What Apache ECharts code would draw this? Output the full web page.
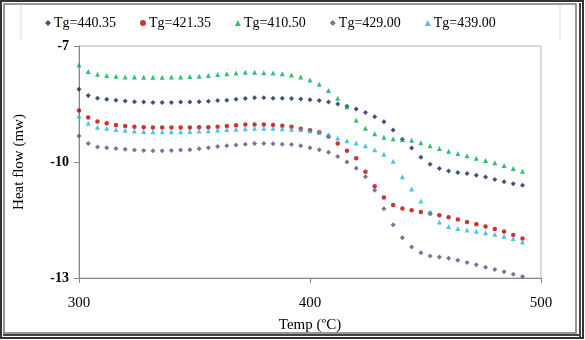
<!DOCTYPE html>
<html>
<head>
<meta charset="utf-8">
<script src="https://cdn.jsdelivr.net/npm/echarts@6/dist/echarts.min.js"></script>
<style>
  html, body { margin: 0; padding: 0; background: #fff; }
  #chart { width: 585px; height: 340px; }
</style>
</head>
<body>
<div id="chart"></div>
<script>
// temperatures (°C) shared by all runs
const temps = [300, 304, 308, 312, 316, 320, 324, 328, 332, 336, 340, 344, 348, 352, 356, 360, 364, 368, 372, 376,
  380, 384, 388, 392, 396, 400, 404, 408, 412, 416, 420, 424, 428, 432, 436, 440, 444, 448, 452, 456,
  460, 464, 468, 472, 476, 480, 484, 488, 492];

// heat flow (mW) per run
const tg44035 = [-8.12, -8.28, -8.35, -8.38, -8.40, -8.42, -8.44, -8.45, -8.46, -8.46, -8.46, -8.45, -8.45, -8.44, -8.43, -8.41, -8.40, -8.38, -8.36, -8.34,
  -8.34, -8.35, -8.35, -8.36, -8.37, -8.39, -8.41, -8.45, -8.50, -8.56, -8.63, -8.72, -8.83, -8.96, -9.17, -9.41, -9.64, -9.88, -10.06, -10.17,
  -10.23, -10.27, -10.30, -10.34, -10.39, -10.45, -10.51, -10.56, -10.60];
const tg42135 = [-8.67, -8.85, -8.95, -9.00, -9.04, -9.07, -9.09, -9.10, -9.11, -9.11, -9.11, -9.11, -9.11, -9.10, -9.10, -9.09, -9.07, -9.05, -9.03, -9.03,
  -9.03, -9.04, -9.06, -9.09, -9.14, -9.18, -9.23, -9.34, -9.52, -9.71, -9.90, -10.25, -10.63, -10.92, -11.11, -11.20, -11.25, -11.29, -11.33, -11.38,
  -11.43, -11.49, -11.55, -11.61, -11.67, -11.73, -11.80, -11.89, -11.98];
const tg41050 = [-7.49, -7.66, -7.73, -7.76, -7.78, -7.80, -7.80, -7.81, -7.81, -7.81, -7.80, -7.80, -7.79, -7.78, -7.76, -7.74, -7.72, -7.70, -7.68, -7.68,
  -7.69, -7.70, -7.72, -7.75, -7.80, -7.88, -7.99, -8.15, -8.35, -8.57, -8.92, -9.13, -9.27, -9.36, -9.40, -9.42, -9.44, -9.50, -9.58, -9.65,
  -9.72, -9.78, -9.84, -9.90, -9.96, -10.02, -10.09, -10.17, -10.24];
const tg42900 = [-9.33, -9.52, -9.61, -9.63, -9.65, -9.67, -9.69, -9.70, -9.71, -9.71, -9.70, -9.69, -9.68, -9.66, -9.63, -9.60, -9.58, -9.56, -9.54, -9.52,
  -9.52, -9.53, -9.54, -9.55, -9.58, -9.63, -9.68, -9.75, -9.86, -10.00, -10.16, -10.38, -10.73, -11.21, -11.62, -11.96, -12.20, -12.35, -12.43, -12.46,
  -12.49, -12.54, -12.60, -12.66, -12.72, -12.78, -12.84, -12.90, -12.96];
const tg43900 = [-8.81, -9.00, -9.10, -9.13, -9.16, -9.18, -9.20, -9.21, -9.22, -9.22, -9.22, -9.22, -9.21, -9.20, -9.19, -9.17, -9.16, -9.15, -9.14, -9.13,
  -9.13, -9.13, -9.14, -9.15, -9.16, -9.19, -9.23, -9.29, -9.38, -9.45, -9.51, -9.58, -9.68, -9.80, -9.98, -10.38, -10.70, -11.01, -11.30, -11.55,
  -11.67, -11.72, -11.76, -11.79, -11.83, -11.87, -11.92, -11.98, -12.07];

const xTicks = [300, 400, 500];
const yTicks = [-13, -10, -7];

const runs = [
  { name: 'Tg=440.35', values: tg44035, color: '#12275e', symbol: 'diamond', size: 5 },
  { name: 'Tg=421.35', values: tg42135, color: '#c00000', symbol: 'circle', size: 4.5 },
  { name: 'Tg=410.50', values: tg41050, color: '#00b050', symbol: 'triangle', size: 5 },
  { name: 'Tg=429.00', values: tg42900, color: '#5a5080', symbol: 'diamond', size: 5 },
  { name: 'Tg=439.00', values: tg43900, color: '#1fb4e8', symbol: 'triangle', size: 5 },
];

const serif = '"Liberation Serif", "Times New Roman", serif';
const chart = echarts.init(document.getElementById('chart'));

chart.setOption({
  animation: false,
  backgroundColor: '#fff',
  legend: {
    top: 11,
    left: 40,
    itemWidth: 6,
    itemHeight: 6,
    itemGap: 24,
    textStyle: { fontFamily: serif, fontSize: 14, color: '#000', padding: [0, 0, 0, -2] },
    data: runs.map(r => ({ name: r.name, icon: r.symbol })),
  },
  grid: {
    left: 79, right: 44, top: 46, bottom: 62,
    show: true, borderColor: '#b4b4b4', borderWidth: 1,
  },
  xAxis: {
    type: 'value',
    min: 300, max: 500,
    name: 'Temp (ºC)',
    nameLocation: 'middle',
    nameGap: 40,
    nameTextStyle: { fontFamily: serif, fontSize: 15, color: '#000' },
    axisLine: { lineStyle: { color: '#888' } },
    axisTick: { show: true, length: 5, lineStyle: { color: '#888' }, customValues: xTicks },
    axisLabel: { fontFamily: serif, fontSize: 15, color: '#000', margin: 18, customValues: xTicks },
    splitLine: { show: false },
  },
  yAxis: {
    type: 'value',
    min: -13, max: -7,
    name: 'Heat flow (mw)',
    nameLocation: 'middle',
    nameGap: 52,
    nameTextStyle: { fontFamily: serif, fontSize: 15, color: '#000' },
    axisLine: { show: true, lineStyle: { color: '#888' } },
    axisTick: { show: true, length: 5, lineStyle: { color: '#888' }, customValues: yTicks },
    axisLabel: { fontFamily: serif, fontSize: 14, fontWeight: 'bold', color: '#000', margin: 10, customValues: yTicks },
    splitLine: { show: false },
  },
  series: runs.map(r => ({
    name: r.name,
    type: 'scatter',
    symbol: r.symbol,
    symbolSize: r.size,
    itemStyle: { color: r.color },
    data: temps.map((t, i) => [t, r.values[i]]),
  })),
  graphic: [
    { type: 'rect', shape: { x: 1, y: 1, width: 582, height: 337 }, style: { fill: 'none', stroke: '#333', lineWidth: 2 } },
    { type: 'rect', shape: { x: 4, y: 4, width: 572, height: 329 }, style: { fill: 'none', stroke: '#777', lineWidth: 1.5 } },
    { type: 'line', shape: { x1: 580, y1: 3, x2: 580, y2: 337 }, style: { stroke: '#444', lineWidth: 2 } },
    { type: 'line', shape: { x1: 3, y1: 335, x2: 581, y2: 335 }, style: { stroke: '#444', lineWidth: 2 } },
    { type: 'line', shape: { x1: 21, y1: 5, x2: 21, y2: 40 }, style: { stroke: '#ddd', lineWidth: 1 } },
    { type: 'line', shape: { x1: 560, y1: 5, x2: 560, y2: 40 }, style: { stroke: '#ddd', lineWidth: 1 } },
  ],
});
</script>
</body>
</html>
